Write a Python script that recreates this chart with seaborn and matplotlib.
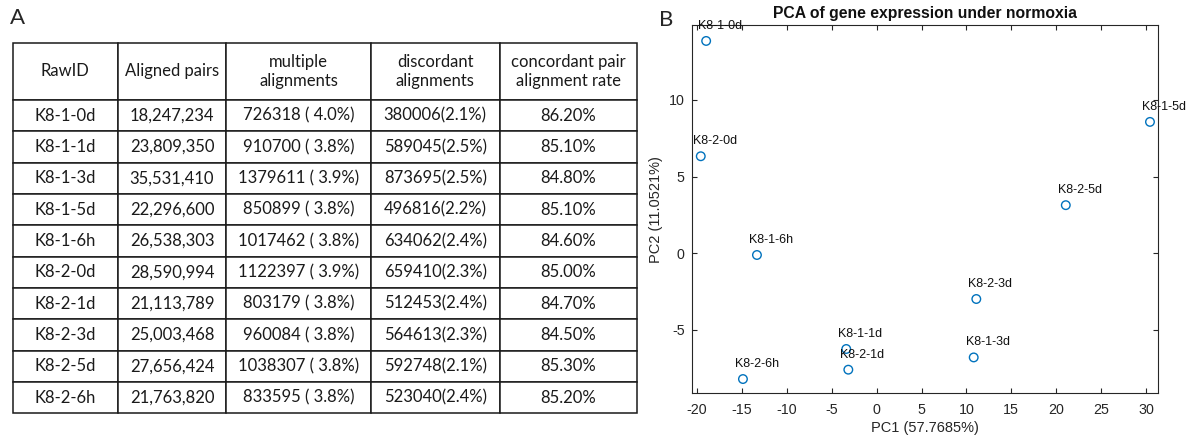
import matplotlib
matplotlib.use("Agg")
import matplotlib.pyplot as plt
import seaborn as sns
import pandas as pd

# ---------------- data ----------------
raw_ids = ["K8-1-0d", "K8-1-1d", "K8-1-3d", "K8-1-5d", "K8-1-6h",
           "K8-2-0d", "K8-2-1d", "K8-2-3d", "K8-2-5d", "K8-2-6h"]
aligned_pairs = ["18,247,234", "23,809,350", "35,531,410", "22,296,600", "26,538,303",
                 "28,590,994", "21,113,789", "25,003,468", "27,656,424", "21,763,820"]
multiple_alignments = ["726318 ( 4.0%)", "910700 ( 3.8%)", "1379611 ( 3.9%)", "850899 ( 3.8%)",
                       "1017462 ( 3.8%)", "1122397 ( 3.9%)", "803179 ( 3.8%)", "960084 ( 3.8%)",
                       "1038307 ( 3.8%)", "833595 ( 3.8%)"]
discordant_alignments = ["380006(2.1%)", "589045(2.5%)", "873695(2.5%)", "496816(2.2%)",
                         "634062(2.4%)", "659410(2.3%)", "512453(2.4%)", "564613(2.3%)",
                         "592748(2.1%)", "523040(2.4%)"]
concordant_rate = ["86.20%", "85.10%", "84.80%", "85.10%", "84.60%",
                   "85.00%", "84.70%", "84.50%", "85.30%", "85.20%"]
table_headers = ["RawID", "Aligned pairs", "multiple\nalignments",
                 "discordant\nalignments", "concordant pair\nalignment rate"]

pca_samples = ["K8-1-0d", "K8-2-0d", "K8-1-5d", "K8-2-5d", "K8-1-6h",
               "K8-2-3d", "K8-1-1d", "K8-2-1d", "K8-1-3d", "K8-2-6h"]
pc1 = [-19.0, -19.6, 30.45, 21.07, -13.34, 11.10, -3.39, -3.16, 10.81, -14.90]
pc2 = [13.85, 6.33, 8.57, 3.14, -0.11, -2.98, -6.24, -7.59, -6.79, -8.20]
x_ticks = [-20, -15, -10, -5, 0, 5, 10, 15, 20, 25, 30]
y_ticks = [-5, 0, 5, 10]

# ---------------- style ----------------
sns.set_style("white")
plt.rcParams["font.family"] = ["Liberation Sans", "DejaVu Sans"]

W, H = 1196, 440
fig = plt.figure(figsize=(W / 100, H / 100), dpi=100)


def fx(px):
    return px / W


def fy(py):
    return 1 - py / H


# ---------------- panel A: table ----------------
tab_left, tab_right, tab_top, tab_bottom = 12.5, 636.5, 43.0, 413.3
axA = fig.add_axes([fx(tab_left), fy(tab_bottom), fx(tab_right - tab_left),
                    (tab_bottom - tab_top) / H])
axA.axis("off")
col_w = [105.5, 108.0, 145.0, 128.5, 137.0]
tot = sum(col_w)
cell_text = [list(r) for r in zip(raw_ids, aligned_pairs, multiple_alignments,
                                  discordant_alignments, concordant_rate)]
tbl = axA.table(cellText=cell_text, colLabels=table_headers,
                colWidths=[w / tot for w in col_w], cellLoc="center",
                bbox=[0, 0, 1, 1])
tbl.auto_set_font_size(False)
header_h = 57.0
row_h = 31.33
for (r, c), cell in tbl.get_celld().items():
    cell.set_edgecolor("#1a1a1a")
    cell.set_linewidth(1.1)
    cell.set_height(header_h if r == 0 else row_h)
    t = cell.get_text()
    t.set_fontfamily("Lato")
    t.set_fontsize(12)
    t.set_color("#1a1a1a")
    t.set_linespacing(1.3)

fig.text(fx(17), fy(18), "A", fontsize=16, family="Lato", ha="center", va="center")
fig.text(fx(666.5), fy(20), "B", fontsize=16, family="Lato", ha="center", va="center")

# ---------------- panel B: PCA scatter ----------------
ax_l, ax_r, ax_t, ax_b = 691.7, 1157.7, 25.0, 393.3
axB = fig.add_axes([fx(ax_l), fy(ax_b), fx(ax_r - ax_l), (ax_b - ax_t) / H])
df = pd.DataFrame({"PC1": pc1, "PC2": pc2, "sample": pca_samples})
sns.scatterplot(data=df, x="PC1", y="PC2", ax=axB, marker="o", s=38,
                facecolor="none", edgecolor="#0072BD", linewidth=1.0, zorder=3)
for xs, ys, lab in zip(pc1, pc2, pca_samples):
    axB.annotate(lab, (xs, ys), xytext=(10.2, 10.8), textcoords="offset points",
                 ha="center", va="center", fontsize=9, color="#111111",
                 annotation_clip=False)

axB.set_xlim(-20.61, 31.31)
axB.set_ylim(-9.13, 14.89)
axB.set_xticks(x_ticks)
axB.set_yticks(y_ticks)
axB.set_xticklabels([str(v) for v in x_ticks])
axB.set_yticklabels([str(v) for v in y_ticks])
axB.tick_params(direction="in", length=3.6, width=0.8, colors="#262626",
                labelsize=10.3, top=True, right=True, bottom=True, left=True)
axB.tick_params(axis="x", pad=7)
axB.tick_params(axis="y", pad=5)
for sp in axB.spines.values():
    sp.set_visible(True)
    sp.set_color("#262626")
    sp.set_linewidth(0.8)
axB.set_xlabel("PC1 (57.7685%)", fontsize=10.5, color="#262626", labelpad=3)
axB.set_ylabel("PC2 (11.0521%)", fontsize=10.5, color="#262626", labelpad=4)
axB.set_title("PCA of gene expression under normoxia", fontsize=11.3,
              fontweight="bold", color="#111111", pad=5)

fig.savefig("out.png", dpi=100)
